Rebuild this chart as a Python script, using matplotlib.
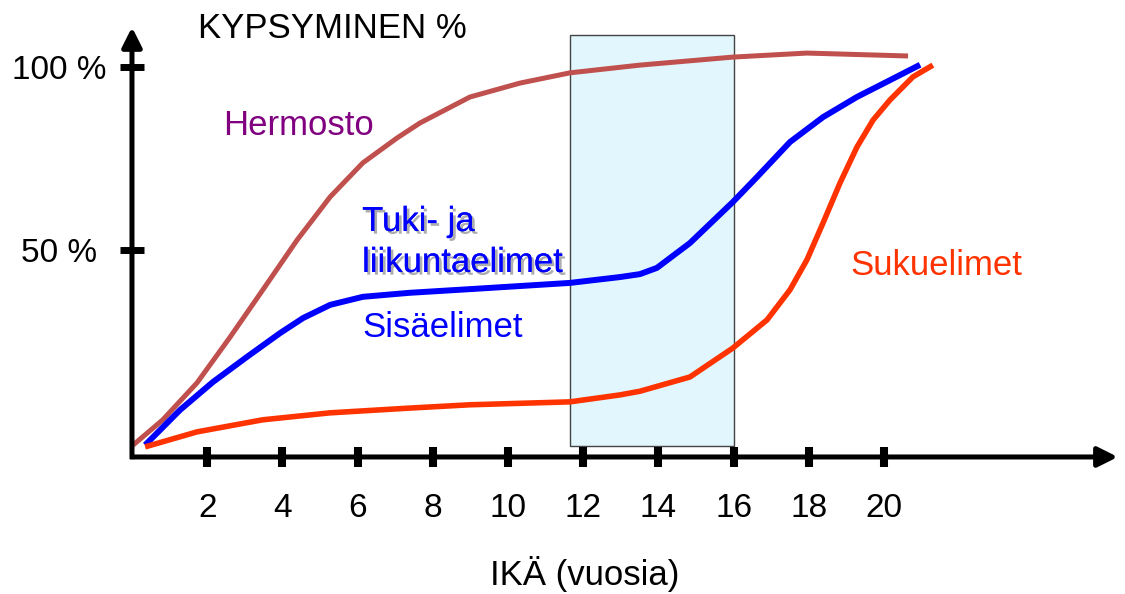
import matplotlib.pyplot as plt
import matplotlib.patheffects as pe
from matplotlib.patches import Rectangle

plt.rcParams['font.family'] = ['Liberation Sans', 'DejaVu Sans']

# Hermosto (nervous system)
hermosto_ika = [0.03, 0.82, 1.73, 2.61, 3.48, 4.39, 5.27, 6.14, 7.05, 7.66, 8.99, 10.32, 11.65, 13.5,
                15.98, 17.95, 20.64]
hermosto_pct = [-3.3, 3.6, 13.7, 26.2, 39.1, 52.7, 64.5, 73.8, 80.6, 84.7, 91.8, 95.6, 98.4, 100.5,
                102.7, 103.8, 103.0]

# Tuki- ja liikuntaelimet / Sisäelimet
tuki_ika = [0.35, 1.28, 2.15, 3.06, 3.94, 4.55, 5.27, 6.14, 7.39, 8.99, 11.65, 12.98, 13.51, 13.96,
            14.84, 15.98, 16.62, 17.5, 18.38, 19.28, 20.16, 20.96]
tuki_pct = [-3.3, 6.3, 13.9, 20.8, 27.3, 31.4, 35.0, 37.2, 38.3, 39.3, 41.0, 42.6, 43.4, 45.1,
            51.9, 63.1, 69.9, 79.5, 86.3, 91.8, 96.4, 100.6]

# Sukuelimet
suku_ika = [0.35, 1.73, 3.48, 5.27, 7.39, 8.99, 11.65, 12.98, 13.51, 14.84, 15.98, 16.89, 17.5, 17.95,
            18.38, 18.83, 19.28, 19.71, 20.16, 20.77, 21.3]
suku_pct = [-3.8, 0.3, 3.6, 5.5, 6.8, 7.7, 8.5, 10.4, 11.4, 15.3, 23.2, 30.9, 39.1, 47.3,
            57.4, 68.3, 78.1, 85.5, 91.0, 97.3, 100.5]

# murrosikä-korostus
korostus_alku = 11.65
korostus_loppu = 16.0

x_ticks = [2, 4, 6, 8, 10, 12, 14, 16, 18, 20]
y_ticks = [50, 100]
y_tick_labels = ['50 %', '100 %']

fig = plt.figure(figsize=(11.25, 5.94), dpi=100)
ax = fig.add_axes([0, 0, 1, 1])
ax.set_xlim(-3.51, 26.41)
ax.set_ylim(-44.0, 118.3)

x_akseli = -6.56

# Korostettu ikäväli
ax.add_patch(Rectangle((korostus_alku, -3.5), korostus_loppu - korostus_alku, 112.2,
                       facecolor='#E1F7FD', edgecolor='#444444', lw=1.0, zorder=1))

# Käyrät
tyyli = dict(zorder=3, solid_capstyle='butt', solid_joinstyle='round')
ax.plot(hermosto_ika, hermosto_pct, color='#C0504D', lw=3.6, **tyyli)
ax.plot(tuki_ika, tuki_pct, color='#0000FF', lw=4.3, **tyyli)
ax.plot(suku_ika, suku_pct, color='#FF3300', lw=4.0, **tyyli)

# Akselit nuolineen
for s in ax.spines.values():
    s.set_visible(False)
ax.spines['left'].set_position(('data', 0))
ax.spines['bottom'].set_position(('data', x_akseli))
nuoli = dict(arrowstyle='-|>,head_length=0.6,head_width=0.3', color='black', lw=3.6,
             shrinkA=0, shrinkB=0, mutation_scale=20, capstyle='butt')
ax.annotate('', xy=(26.22, x_akseli), xytext=(-0.05, x_akseli), arrowprops=nuoli, zorder=4)
ax.annotate('', xy=(0, 110.9), xytext=(0, x_akseli - 0.6), arrowprops=nuoli, zorder=4)

ax.set_xticks(x_ticks)
ax.set_xticklabels([str(t) for t in x_ticks])
ax.set_yticks(y_ticks)
ax.set_yticklabels(y_tick_labels)
ax.tick_params(axis='x', direction='inout', length=13.7, width=5.8, pad=19, labelsize=24)
ax.tick_params(axis='y', direction='inout', length=17, width=5, pad=44, labelsize=24)
for lbl in ax.get_yticklabels():
    lbl.set_horizontalalignment('center')

# Tekstit
ax.text(1.76, 107.9, 'KYPSYMINEN %', fontsize=25, color='black', va='baseline')
ax.text(12.05, -41.5, 'IKÄ (vuosia)', fontsize=25, color='black', ha='center', va='baseline')
ax.text(2.42, 81.4, 'Hermosto', fontsize=25, color='#800080', va='baseline')
varjo = [pe.withSimplePatchShadow(offset=(2, -2), shadow_rgbFace='#777777', alpha=0.6), pe.Normal()]
ax.text(6.12, 55.2, 'Tuki- ja', fontsize=25, color='#0000FF', va='baseline', path_effects=varjo)
ax.text(6.12, 44.0, 'liikuntaelimet', fontsize=25, color='#0000FF', va='baseline', path_effects=varjo)
ax.text(6.12, 26.2, 'Sisäelimet', fontsize=25, color='#0000FF', va='baseline')
ax.text(19.1, 43.2, 'Sukuelimet', fontsize=25, color='#FF3300', va='baseline')

fig.savefig('out.png', dpi=100)
